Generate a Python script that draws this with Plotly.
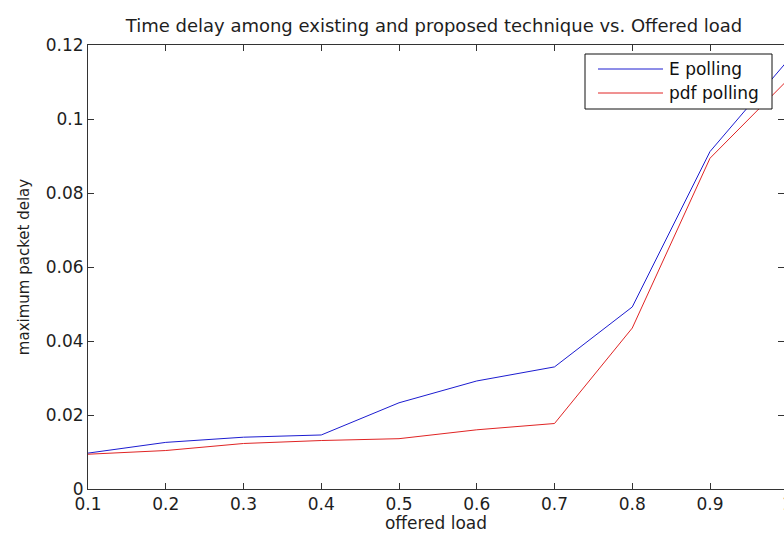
import plotly.graph_objects as go

offered_load = [0.1, 0.2, 0.3, 0.4, 0.5, 0.6, 0.7, 0.8, 0.9, 1.0]
e_polling = [0.0097, 0.0126, 0.0140, 0.0146, 0.0233, 0.0292, 0.0330, 0.0492, 0.0912, 0.1158]
pdf_polling = [0.0094, 0.0104, 0.0123, 0.0131, 0.0136, 0.0160, 0.0177, 0.0435, 0.0894, 0.1106]
series_names = ["E polling", "pdf polling"]
x_ticks = [0.1, 0.2, 0.3, 0.4, 0.5, 0.6, 0.7, 0.8, 0.9]
x_tick_labels = ["0.1", "0.2", "0.3", "0.4", "0.5", "0.6", "0.7", "0.8", "0.9"]
y_ticks = [0, 0.02, 0.04, 0.06, 0.08, 0.1, 0.12]
y_tick_labels = ["0", "0.02", "0.04", "0.06", "0.08", "0.1", "0.12"]

FONT = "DejaVu Sans"
TXT = "#1e1e1e"
BLUE = "#1c1cd0"
RED = "#e02424"
W, H = 784, 533
L, R, T, B = 88, 0, 45, 44
PW, PH = W - L - R, H - T - B


def px(x):
    return (x - L) / PW


def py(y):
    return (H - B - y) / PH


fig = go.Figure()
fig.add_trace(go.Scatter(x=offered_load, y=e_polling, mode="lines", name=series_names[0],
                         showlegend=False, line=dict(color=BLUE, width=1)))
fig.add_trace(go.Scatter(x=offered_load, y=pdf_polling, mode="lines", name=series_names[1],
                         showlegend=False, line=dict(color=RED, width=1)))
# invisible helper trace so the right-side (box) ticks get drawn
fig.add_trace(go.Scatter(x=[offered_load[0]], y=[y_ticks[0]], yaxis="y2", mode="lines",
                         showlegend=False, hoverinfo="skip", line=dict(width=0)))

x_right = 0.1 + PW / 777.5

# manual MATLAB-style legend box
shapes = [
    dict(type="rect", xref="paper", yref="paper", x0=px(585), x1=px(772), y0=py(54), y1=py(109),
         line=dict(color="#111", width=1), fillcolor="white", layer="above"),
    dict(type="line", xref="paper", yref="paper", x0=px(598), x1=px(663), y0=py(69), y1=py(69),
         line=dict(color=BLUE, width=1), layer="above"),
    dict(type="line", xref="paper", yref="paper", x0=px(598), x1=px(663), y0=py(93), y1=py(93),
         line=dict(color=RED, width=1), layer="above"),
]

annotations = [
    dict(text=series_names[0], xref="paper", yref="paper", x=px(667), y=py(69),
         xanchor="left", yanchor="middle", showarrow=False,
         font=dict(family=FONT, size=17, color="#111")),
    dict(text=series_names[1], xref="paper", yref="paper", x=px(667), y=py(93),
         xanchor="left", yanchor="middle", showarrow=False,
         font=dict(family=FONT, size=17, color="#111")),
    dict(text="1", xref="paper", yref="paper", x=px(787), y=0,
         xanchor="center", yanchor="top", yshift=-3, showarrow=False,
         font=dict(family=FONT, size=17, color=TXT)),
]

fig.update_layout(
    width=W, height=H,
    margin=dict(l=L, r=R, t=T, b=B),
    paper_bgcolor="white", plot_bgcolor="white",
    showlegend=False,
    title=dict(text="Time delay among existing and proposed technique vs. Offered load",
               font=dict(family=FONT, size=18, color=TXT),
               x=434 / W, xanchor="center", y=1 - 26 / H, yanchor="middle"),
    xaxis=dict(range=[0.1, x_right], tickvals=x_ticks, ticktext=x_tick_labels,
               ticks="inside", ticklen=6, tickcolor="#333", showline=True, linecolor="#333",
               linewidth=1, mirror="ticks", showgrid=False, zeroline=False,
               tickfont=dict(family=FONT, size=17, color=TXT),
               title=dict(text="offered load", font=dict(family=FONT, size=17, color=TXT), standoff=3)),
    yaxis=dict(range=[0, 0.12], tickvals=y_ticks, ticktext=y_tick_labels,
               ticks="inside", ticklen=6, tickcolor="#333", showline=True, linecolor="#333",
               linewidth=1, showgrid=False, zeroline=False,
               tickfont=dict(family=FONT, size=17, color=TXT),
               title=dict(text="maximum packet delay", font=dict(family=FONT, size=15, color=TXT), standoff=12)),
    yaxis2=dict(range=[0, 0.12], overlaying="y", side="right", tickvals=y_ticks,
                ticks="inside", ticklen=6, tickcolor="#333", showline=False,
                showticklabels=False, showgrid=False, zeroline=False),
    shapes=shapes,
    annotations=annotations,
)

fig.write_html("out.html", config={"displayModeBar": False},
               post_script="document.body.style.margin='0px';")
